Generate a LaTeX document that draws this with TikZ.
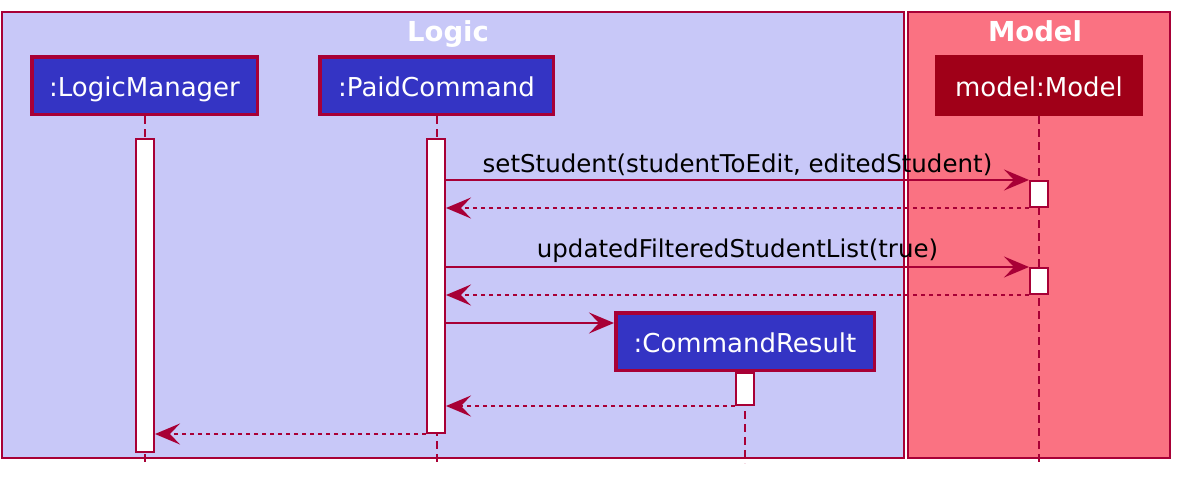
\documentclass[tikz,border=0pt]{standalone}
\usepackage{fontspec}
\setmainfont{DejaVu Sans}
\usetikzlibrary{arrows.meta}

\definecolor{umlred}{RGB}{168,0,54}
\definecolor{logicbg}{RGB}{200,200,248}
\definecolor{modelbg}{RGB}{250,114,130}
\definecolor{partblue}{RGB}{52,52,196}
\definecolor{partred}{RGB}{160,0,24}

\tikzset{
  part/.style={draw=umlred, line width=3.5pt, fill=partblue, text=white,
    font=\fontsize{26}{30}\selectfont, minimum height=57.5pt, inner sep=0pt,
    text height=22pt, text depth=0pt},
  act/.style={draw=umlred, line width=2pt, fill=white, minimum width=18pt, inner sep=0pt},
  life/.style={draw=umlred, line width=2pt, dash pattern=on 8pt off 5pt},
  msg/.style={draw=umlred, line width=2pt, -{Stealth[length=25pt, width=21pt, inset=10pt]}},
  ret/.style={msg, dash pattern=on 4pt off 4pt},
  lbl/.style={font=\fontsize{24.5}{28}\selectfont, text=black, inner sep=3pt},
  grp/.style={draw=umlred, line width=2pt},
  grptitle/.style={font=\fontsize{27.5}{32}\selectfont\bfseries, text=white, anchor=base}
}

\begin{document}
\begin{tikzpicture}[x=1pt, y=-1pt]
  \useasboundingbox (0,0) rectangle (1180,482);
  % Boxes
  \draw[grp, fill=logicbg] (2,12) rectangle (904,458);
  \draw[grp, fill=modelbg] (908,12) rectangle (1170,458);
  \node[grptitle] (logictitle) at (448,41) {Logic};
  \node[grptitle] (modeltitle) at (1035,41) {Model};
  % Participants
  \node[part, minimum width=225.5pt] (lm) at (144.5,85.5) {:LogicManager};
  \node[part, minimum width=233.5pt] (pc) at (436.5,85.5) {:PaidCommand};
  \node[part, minimum width=204.5pt, fill=partred, draw=partred] (md) at (1039,85.5) {model:Model};
  \coordinate (bottom) at (0,466);
  % Lifelines
  \draw[life] (lm.south) -- (lm.south |- bottom);
  \draw[life] (pc.south) -- (pc.south |- bottom);
  \draw[life] (md.south) -- (md.south |- bottom);
  % Activations
  \node[act, minimum height=313pt] (lmAct) at (145,295.5) {};
  \node[act, minimum height=294pt] (pcAct) at (436,286) {};
  \node[act, minimum height=26pt] (mdActA) at (1039,194) {};
  \node[act, minimum height=26pt] (mdActB) at (1039,281) {};
  % Created object
  \node[part, minimum width=258.5pt] (cr) at (745,341.5) {:CommandResult};
  \draw[life] (cr.south) -- (cr.south |- 0,463);
  \node[act, minimum height=32pt] (crAct) at (745,389) {};
  % Messages
  \draw[msg] (pcAct.east |- mdActA.north) -- (mdActA.north west)
    node[lbl, midway, above] {setStudent(studentToEdit, editedStudent)};
  \draw[ret] (mdActA.south west) -- (pcAct.east |- mdActA.south);
  \draw[msg] (pcAct.east |- mdActB.north) -- (mdActB.north west)
    node[lbl, midway, above] {updatedFilteredStudentList(true)};
  \draw[ret] (mdActB.south west) -- (pcAct.east |- mdActB.south);
  \draw[msg] (pcAct.east |- 0,323) -- (cr.west |- 0,323);
  \draw[ret] (crAct.south west) -- (pcAct.east |- crAct.south);
  \draw[ret] (pcAct.south west) -- (lmAct.east |- pcAct.south);
\end{tikzpicture}
\end{document}
